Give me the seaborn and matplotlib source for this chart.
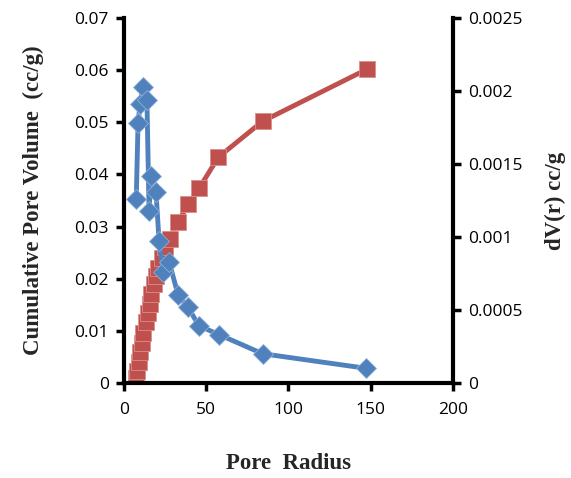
import matplotlib
matplotlib.use("Agg")
import matplotlib.pyplot as plt
import seaborn as sns
import pandas as pd

# Cumulative pore volume (red squares)
cum_radius = [7.6, 7.9, 8.9, 9.8, 10.7, 11.9, 13.4, 14.4, 15.9, 16.5, 18.0, 19.5,
              20.5, 23.2, 25.0, 27.8, 33.0, 39.1, 45.8, 57.4, 84.3, 147.8]
cum_volume = [0.0010, 0.0023, 0.0040, 0.0059, 0.0077, 0.0096, 0.0117, 0.0134,
              0.0152, 0.0171, 0.0190, 0.0205, 0.0221, 0.0240, 0.0261, 0.0276,
              0.0309, 0.0343, 0.0374, 0.0433, 0.0502, 0.0602]

# dV(r) (blue diamonds)
dv_radius = [7.5, 8.6, 9.8, 11.6, 14.0, 15.3, 16.5, 19.5, 21.4, 24.0, 27.5,
             33.0, 38.8, 45.8, 58.0, 84.3, 147.2]
dv_values = [0.00126, 0.00178, 0.00191, 0.00203, 0.00194, 0.00118, 0.00142,
             0.00131, 0.00097, 0.00076, 0.00083, 0.00060, 0.00052, 0.00039,
             0.00033, 0.00020, 0.00010]

x_ticks = [0, 50, 100, 150, 200]
y_left_ticks = [0, 0.01, 0.02, 0.03, 0.04, 0.05, 0.06, 0.07]
y_left_labels = ["0", "0.01", "0.02", "0.03", "0.04", "0.05", "0.06", "0.07"]
y_right_ticks = [0, 0.0005, 0.001, 0.0015, 0.002, 0.0025]
y_right_labels = ["0", "0.0005", "0.001", "0.0015", "0.002", "0.0025"]

sns.set_style("white")
plt.rcParams['font.family'] = ['Open Sans', 'DejaVu Sans']

RED = "#C0504D"
BLUE = "#4F81BD"

fig = plt.figure(figsize=(5.71, 4.78), dpi=100)
ax = fig.add_axes([0.217, 0.199, 0.576, 0.763])
ax2 = ax.twinx()

df_cum = pd.DataFrame({"r": cum_radius, "v": cum_volume})
df_dv = pd.DataFrame({"r": dv_radius, "v": dv_values})

sns.lineplot(data=df_cum, x="r", y="v", ax=ax, sort=False, color=RED,
             linewidth=3.5, marker="s", markersize=11, markeredgecolor="#D9908E",
             markeredgewidth=0.6, estimator=None)
sns.lineplot(data=df_dv, x="r", y="v", ax=ax2, sort=False, color=BLUE,
             linewidth=3.5, marker="D", markersize=10, markeredgecolor="#8FB0D8",
             markeredgewidth=0.6, estimator=None)

ax.set_xlim(0, 200)
ax.set_ylim(0, 0.07)
ax2.set_ylim(0, 0.0025)
ax.set_xticks(x_ticks)
ax.set_xticklabels([str(t) for t in x_ticks])
ax.set_yticks(y_left_ticks)
ax.set_yticklabels(y_left_labels)
ax2.set_yticks(y_right_ticks)
ax2.set_yticklabels(y_right_labels)

for a in (ax, ax2):
    a.grid(False)
    for s in ("left", "bottom", "right"):
        a.spines[s].set_visible(True)
        a.spines[s].set_color("black")
        a.spines[s].set_linewidth(3)
    a.spines["top"].set_visible(False)
    a.tick_params(axis="both", direction="out", length=6, width=2.5,
                  labelsize=12.5, colors="black", pad=5)
ax.tick_params(axis="x", pad=8)
ax.spines["right"].set_visible(False)
ax2.spines["left"].set_visible(False)
ax2.spines["bottom"].set_visible(False)
ax2.tick_params(axis="y", left=False, right=True)
ax.tick_params(axis="y", left=True, right=False)
ax.tick_params(axis="x", bottom=True)

serif = dict(family=["Liberation Serif", "DejaVu Serif"], fontweight="bold", fontsize=16.5)
ax.set_xlabel("Pore  Radius", labelpad=25, **serif)
ax.set_ylabel("Cumulative Pore Volume  (cc/g)", labelpad=22, **serif)
ax2.set_ylabel("dV(r) cc/g", labelpad=16, **serif)

fig.savefig("out.png", dpi=100, facecolor="white")
